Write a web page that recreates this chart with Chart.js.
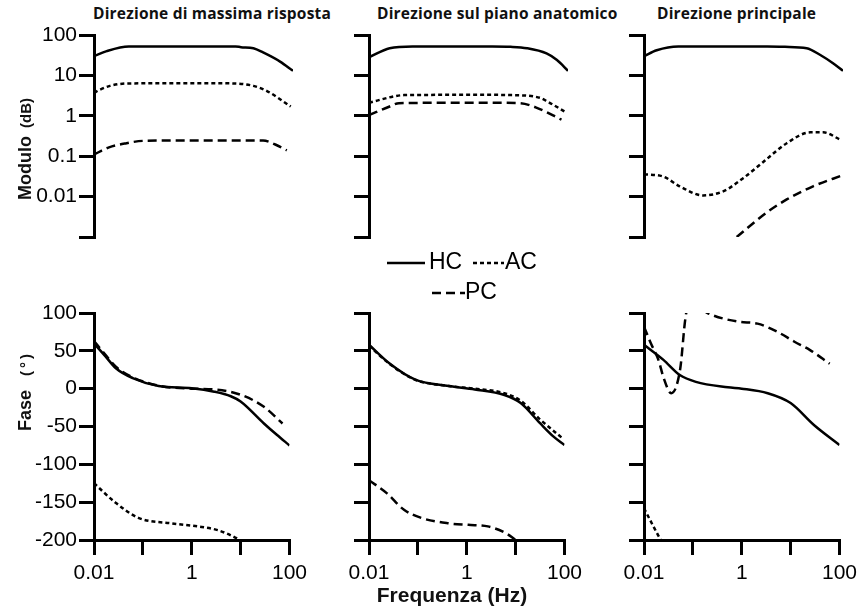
<!DOCTYPE html>
<html lang="it">
<head>
<meta charset="utf-8">
<title>Modulo e fase HC AC PC</title>
<script src="https://cdn.jsdelivr.net/npm/chart.js@4.4.1/dist/chart.umd.min.js"></script>
<style>
  html, body { margin: 0; padding: 0; background: #fff; }
  #fig { position: relative; width: 861px; height: 615px; overflow: hidden;
         font-family: "Liberation Sans", Arial, sans-serif; color: #111; }
  #fig canvas { position: absolute; }
  .titolo { position: absolute; top: 4px; line-height: 19px; font-family: "Open Sans", sans-serif;
            font-weight: 700; font-size: 15.5px; letter-spacing: 0.2px; white-space: nowrap; }
  .ylab { position: absolute; transform: translate(-50%, -50%) rotate(-90deg);
          font-weight: 700; font-size: 18px; white-space: nowrap; }
  .ylab span { font-size: 15px; margin-left: 8px; }
  #xlab { position: absolute; left: 452px; top: 595px; transform: translate(-50%, -50%);
          font-weight: 700; font-size: 21px; white-space: nowrap; }
</style>
</head>
<body>
<div id="fig">
  <div class="titolo" style="left:93px">Direzione di massima risposta</div>
  <div class="titolo" style="left:377px">Direzione sul piano anatomico</div>
  <div class="titolo" style="left:657px">Direzione principale</div>

  <canvas id="c00" width="281" height="297" style="left:32px;top:20px"></canvas>
  <canvas id="c01" width="281" height="297" style="left:307px;top:20px"></canvas>
  <canvas id="c02" width="281" height="297" style="left:582px;top:20px"></canvas>
  <canvas id="c10" width="281" height="292" style="left:32px;top:298px"></canvas>
  <canvas id="c11" width="281" height="292" style="left:307px;top:298px"></canvas>
  <canvas id="c12" width="281" height="292" style="left:582px;top:298px"></canvas>

  <div class="ylab" style="left:25px;top:149px">Modulo<span>(dB)</span></div>
  <div class="ylab" style="left:25px;top:391px">Fase<span style="margin-left:14px;letter-spacing:3px">(°)</span></div>
  <div id="xlab">Frequenza (Hz)</div>
</div>

<script>
// tick degli assi
const freqTickValues = [0.01, 0.1, 1, 10, 100];
const freqTickLabels = ['0.01', '', '1', '', '100'];
const modTickValues = [100, 10, 1, 0.1, 0.01, 0.001];
const modTickLabels = ['100', '10', '1', '0.1', '0.01', ''];
const fasTickValues = [100, 50, 0, -50, -100, -150, -200];
const fasTickLabels = ['100', '50', '0', '-50', '-100', '-150', '-200'];

// Modulo - direzione di massima risposta
const fModMaxHC = [0.01, 0.018, 0.05, 0.2, 1, 3, 7, 9, 16, 25, 55, 100];
const modMaxHC  = [30, 40, 52, 52, 52, 52, 52, 50, 47, 37, 22, 13];
const fModMaxAC = [0.01, 0.013, 0.021, 0.045, 0.3, 2, 7, 16, 30, 90];
const modMaxAC  = [3.7, 4.4, 5.5, 6.3, 6.4, 6.4, 6.3, 5.5, 4.1, 1.7];
const fModMaxPC = [0.01, 0.02, 0.045, 0.1, 1, 10, 25, 44, 75];
const modMaxPC  = [0.11, 0.166, 0.21, 0.24, 0.245, 0.245, 0.245, 0.195, 0.14];

// Modulo - direzione sul piano anatomico
const fModPiaHC = [0.01, 0.026, 0.075, 0.5, 3, 7, 15, 37, 60, 100];
const modPiaHC  = [28, 47, 52, 52, 52, 51, 47, 35, 24, 13];
const fModPiaAC = [0.01, 0.031, 0.05, 0.5, 3, 7.4, 27, 40, 93];
const modPiaAC  = [2.1, 3.0, 3.25, 3.3, 3.3, 3.25, 2.8, 2.2, 1.2];
const fModPiaPC = [0.01, 0.026, 0.04, 0.5, 3, 10.7, 23, 74];
const modPiaPC  = [1.04, 1.7, 2.05, 2.1, 2.1, 2.05, 1.6, 0.8];

// Modulo - direzione principale
const fModPriHC = [0.01, 0.018, 0.049, 0.5, 3, 6.8, 18.6, 35, 63, 100];
const modPriHC  = [30, 42, 52, 52, 52, 51, 47, 32, 20, 13];
const fModPriAC = [0.01, 0.025, 0.052, 0.155, 0.39, 1, 2.5, 7.4, 22, 40, 87];
const modPriAC  = [0.036, 0.031, 0.018, 0.0107, 0.0135, 0.029, 0.072, 0.21, 0.39, 0.39, 0.26];
const fModPriPC = [0.73, 2.9, 7.4, 25, 100];
const modPriPC  = [0.001, 0.004, 0.0085, 0.018, 0.034];

// Fase - direzione di massima risposta
const fFasMaxHC = [0.01, 0.017, 0.028, 0.062, 0.21, 1, 2.9, 6.3, 10, 30, 55, 100];
const fasMaxHC  = [60, 43, 27, 14, 3.5, 0.5, -4, -10, -17, -46, -61, -75];
const fFasMaxAC = [0.01, 0.028, 0.083, 0.39, 1.3, 3.4, 8.5, 9.5];
const fasMaxAC  = [-125, -151, -171, -178, -182, -187, -198, -200];
const fFasMaxPC = [0.01, 0.017, 0.028, 0.062, 0.21, 1, 2.9, 10, 30, 72];
const fasMaxPC  = [63, 45, 29, 15, 4, 0, -1, -8, -24, -46];

// Fase - direzione sul piano anatomico
const fFasPiaHC = [0.01, 0.026, 0.091, 0.43, 1.46, 5.9, 12.7, 32, 59, 100];
const fasPiaHC  = [58, 33.5, 11.5, 3.5, -1, -8.4, -19, -46, -63, -74.5];
const fFasPiaAC = [0.01, 0.026, 0.091, 0.43, 1.46, 5.9, 12.7, 32, 93];
const fasPiaAC  = [57, 33, 11.5, 3.5, 0, -6, -16, -41, -66];
const fFasPiaPC = [0.01, 0.023, 0.052, 0.12, 0.43, 1.07, 2.7, 6.3, 10];
const fasPiaPC  = [-121, -138, -160, -171, -178, -180, -182, -191, -200];

// Fase - direzione principale
const fFasPriHC = [0.01, 0.025, 0.054, 0.115, 0.52, 1, 3.4, 10, 30, 100];
const fasPriHC  = [58, 38, 18, 9, 1.8, 0, -6, -19, -48, -74.5];
const fFasPriAC = [0.01, 0.015, 0.022, 0.025];
const fasPriAC  = [-158, -180, -200, -206];
const fFasPriPC = [0.01, 0.0138, 0.02, 0.025, 0.036, 0.055, 0.07, 0.085, 0.13, 0.2, 0.85, 2.1, 5.4, 12, 25, 63];
const fasPriPC  = [82, 60, 37, 15, -6, 26, 92, 115, 108, 100, 88.5, 86, 75, 62, 51, 33];

// stile delle tre curve
const stili = {
  HC: { dash: [], w: 2.5 },
  AC: { dash: [4, 3], w: 2.5 },
  PC: { dash: [9, 5], w: 2.5 }
};

const fontTick = { family: '"Liberation Sans", Arial, sans-serif', size: 21 };

// legenda disegnata dentro il pannello centrale in alto
const legendaInterna = {
  id: 'legendaInterna',
  afterDraw(chart) {
    const { ctx, chartArea } = chart;
    const voci = [
      { ds: 0, dx: 18, dy: 228, len: 38, tx: 60 },
      { ds: 1, dx: 104, dy: 228, len: 31, tx: 136 },
      { ds: 2, dx: 63, dy: 258, len: 33, tx: 96 }
    ];
    ctx.save();
    ctx.font = '23px "Liberation Sans", Arial, sans-serif';
    ctx.textBaseline = 'middle';
    ctx.fillStyle = '#000';
    voci.forEach(v => {
      const ds = chart.data.datasets[v.ds];
      const x0 = chartArea.left + v.dx, y0 = chartArea.top + v.dy;
      ctx.strokeStyle = '#000';
      ctx.lineWidth = ds.borderWidth;
      ctx.setLineDash(ds.borderDash);
      ctx.beginPath();
      ctx.moveTo(x0, y0);
      ctx.lineTo(x0 + v.len, y0);
      ctx.stroke();
      ctx.setLineDash([]);
      ctx.fillText(ds.label, chartArea.left + v.tx, y0);
    });
    ctx.restore();
  }
};

function assi() {
  return {
    grid: { display: true, drawOnChartArea: false, drawTicks: true, tickLength: 15,
            tickWidth: 3, tickColor: '#000', color: '#000', lineWidth: 3 },
    border: { display: true, color: '#000', width: 3 }
  };
}

function creaPannello(id, riga, colonna, serie, conLegenda) {
  const modulo = riga === 0;
  const yValori = modulo ? modTickValues : fasTickValues;
  const yEtichette = modulo ? modTickLabels : fasTickLabels;
  const datasets = serie.map(s => ({
    label: s.nome,
    data: s.f.map((f, i) => ({ x: f, y: s.v[i] })),
    borderColor: '#000',
    borderWidth: stili[s.nome].w,
    borderDash: stili[s.nome].dash,
    pointRadius: 0,
    fill: false,
    cubicInterpolationMode: 'monotone'
  }));

  new Chart(document.getElementById(id), {
    type: 'line',
    data: { datasets: datasets },
    plugins: conLegenda ? [legendaInterna] : [],
    options: {
      responsive: false,
      animation: false,
      layout: { padding: { left: 0, top: 15, right: 20, bottom: modulo ? 30 : 0 } },
      plugins: { legend: { display: false }, tooltip: { enabled: false }, title: { display: false } },
      scales: {
        x: Object.assign(assi(), {
          type: 'logarithmic', min: 0.01, max: 100, display: !modulo,
          afterBuildTicks: s => { s.ticks = freqTickValues.map(v => ({ value: v })); },
          afterFit: s => { s.height = 50; },
          ticks: { autoSkip: false, maxRotation: 0, padding: 6, color: '#000', font: fontTick,
                   callback: v => freqTickLabels[freqTickValues.indexOf(v)] }
        }),
        y: Object.assign(assi(), {
          type: modulo ? 'logarithmic' : 'linear',
          min: modulo ? 0.001 : -200, max: 100,
          afterBuildTicks: s => { s.ticks = yValori.map(v => ({ value: v })); },
          afterFit: s => { s.width = 62; },
          ticks: { autoSkip: false, padding: 2, color: '#000', font: fontTick,
                   callback: v => colonna === 0 ? yEtichette[yValori.indexOf(v)] : '' }
        })
      }
    }
  });
}

creaPannello('c00', 0, 0, [
  { nome: 'HC', f: fModMaxHC, v: modMaxHC },
  { nome: 'AC', f: fModMaxAC, v: modMaxAC },
  { nome: 'PC', f: fModMaxPC, v: modMaxPC }
]);
creaPannello('c01', 0, 1, [
  { nome: 'HC', f: fModPiaHC, v: modPiaHC },
  { nome: 'AC', f: fModPiaAC, v: modPiaAC },
  { nome: 'PC', f: fModPiaPC, v: modPiaPC }
], true);
creaPannello('c02', 0, 2, [
  { nome: 'HC', f: fModPriHC, v: modPriHC },
  { nome: 'AC', f: fModPriAC, v: modPriAC },
  { nome: 'PC', f: fModPriPC, v: modPriPC }
]);
creaPannello('c10', 1, 0, [
  { nome: 'HC', f: fFasMaxHC, v: fasMaxHC },
  { nome: 'AC', f: fFasMaxAC, v: fasMaxAC },
  { nome: 'PC', f: fFasMaxPC, v: fasMaxPC }
]);
creaPannello('c11', 1, 1, [
  { nome: 'HC', f: fFasPiaHC, v: fasPiaHC },
  { nome: 'AC', f: fFasPiaAC, v: fasPiaAC },
  { nome: 'PC', f: fFasPiaPC, v: fasPiaPC }
]);
creaPannello('c12', 1, 2, [
  { nome: 'HC', f: fFasPriHC, v: fasPriHC },
  { nome: 'AC', f: fFasPriAC, v: fasPriAC },
  { nome: 'PC', f: fFasPriPC, v: fasPriPC }
]);
</script>
</body>
</html>
